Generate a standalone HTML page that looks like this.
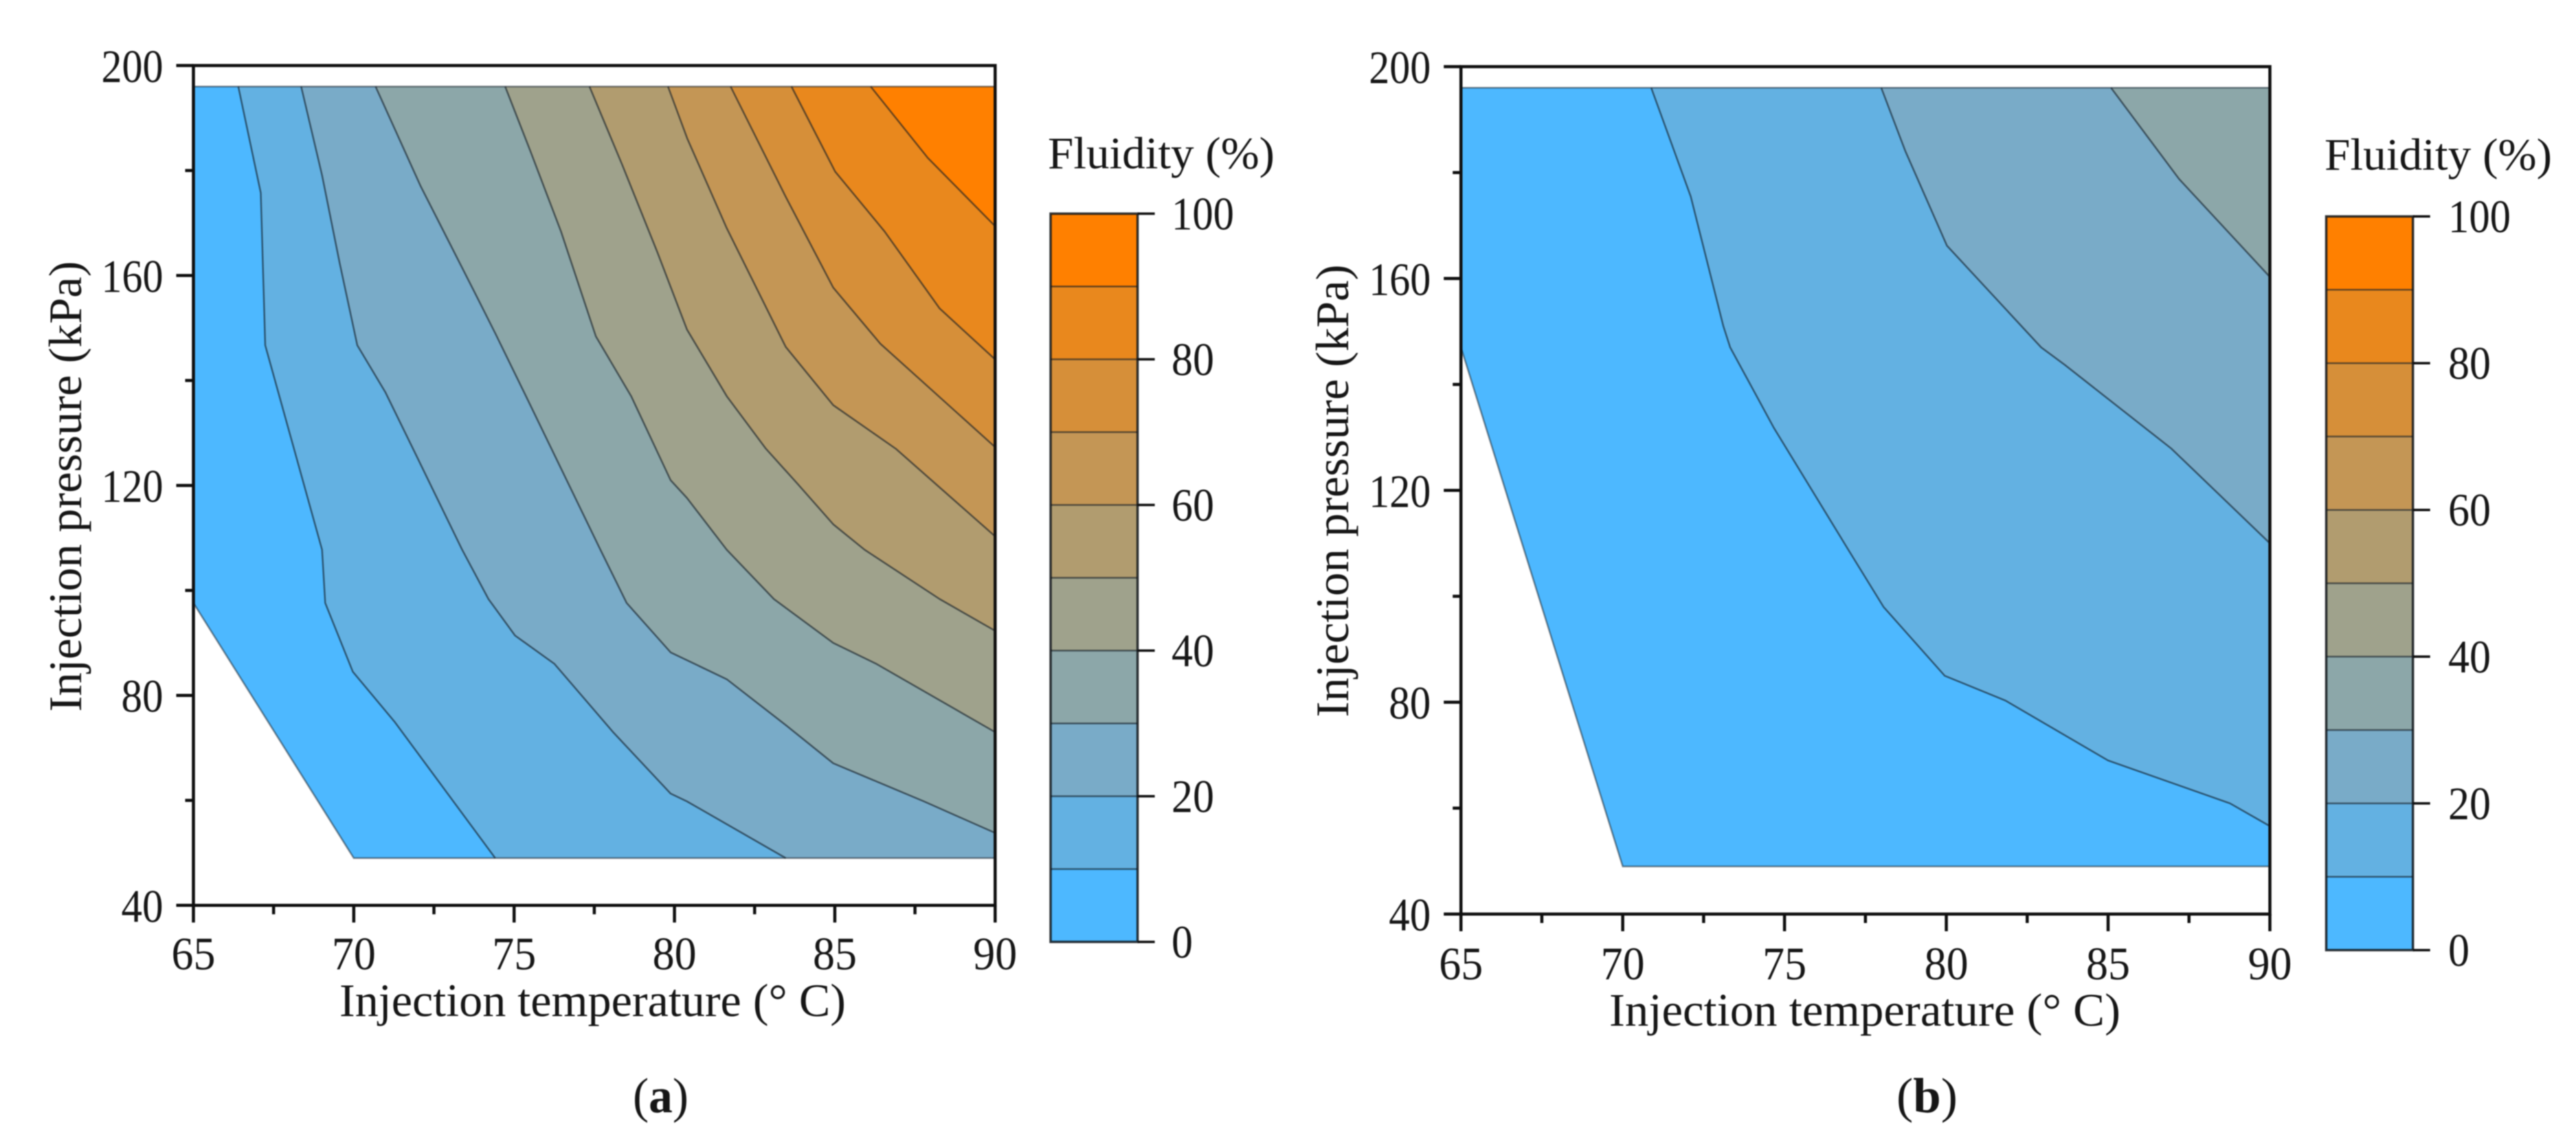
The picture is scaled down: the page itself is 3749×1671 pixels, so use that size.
<!DOCTYPE html>
<html lang="en">
<head>
<meta charset="utf-8">
<title>Fluidity contour maps</title>
<style>
html,body{margin:0;padding:0;background:#fff;width:3749px;height:1671px;overflow:hidden}
svg{display:block;filter:blur(0.8px)}
text{font-family:"Liberation Serif",serif;fill:#161616}
</style>
</head>
<body>
<svg id="figure" xmlns="http://www.w3.org/2000/svg" width="3749" height="1671" viewBox="0 0 3749 1671">
  <rect width="3749" height="1671" fill="#fff"/>
  <g id="panel-a"></g>
  <g id="panel-b"></g>

  <text x="494" y="1479" font-size="68" textLength="737" lengthAdjust="spacingAndGlyphs">Injection temperature (° C)</text>
  <text transform="translate(118,1036) rotate(-90)" font-size="68" textLength="656" lengthAdjust="spacingAndGlyphs">Injection pressure (kPa)</text>
  <text x="1525" y="245" font-size="66" textLength="330" lengthAdjust="spacingAndGlyphs">Fluidity (%)</text>
  <text x="921" y="1619" font-size="72" textLength="81" lengthAdjust="spacingAndGlyphs">(<tspan font-weight="bold">a</tspan>)</text>

  <text x="2342" y="1493" font-size="68" textLength="744" lengthAdjust="spacingAndGlyphs">Injection temperature (° C)</text>
  <text transform="translate(1962,1044) rotate(-90)" font-size="68" textLength="659" lengthAdjust="spacingAndGlyphs">Injection pressure (kPa)</text>
  <text x="3383" y="247" font-size="66" textLength="331" lengthAdjust="spacingAndGlyphs">Fluidity (%)</text>
  <text x="2760" y="1619" font-size="72" textLength="89" lengthAdjust="spacingAndGlyphs">(<tspan font-weight="bold">b</tspan>)</text>
</svg>

<script>
// ---- shared chart data ----
const temperatureTicks = [65, 70, 75, 80, 85, 90];
const temperatureMinorTicks = [67.5, 72.5, 77.5, 82.5, 87.5];
const pressureTicks = [40, 80, 120, 160, 200];
const pressureMinorTicks = [60, 100, 140, 180];
const colorbarTicks = [0, 20, 40, 60, 80, 100];
const bandEdges = [0, 10, 20, 30, 40, 50, 60, 70, 80, 90, 100];
const bandColors = ['#4db8ff', '#63b1e2', '#79abc8', '#8ca7a9', '#9fa28c', '#b19c6f', '#c49655', '#d68f39', '#e9881d', '#ff8000'];

// ---- panel (a): [temperature, pressure] vertices ----
const domainA = [[65, 196], [90, 196], [90, 49], [70, 49], [65, 97.6]];
const contourA10 = [[66.4, 196], [67.1, 175.75], [67.24, 146.7], [69.01, 107.75], [69.11, 97.6], [69.97, 84.5], [71.27, 75], [74.41, 49]];
const contourA20 = [[68.36, 196], [69.01, 179.1], [69.56, 162.4], [70.11, 146.7], [70.99, 137.7], [71.95, 125.7], [73.38, 107.75], [74.2, 98.35], [75.03, 91.4], [76.26, 86], [78.1, 72.9], [79.88, 61.3], [80.39, 59.8], [83.47, 49]];
const contourA30 = [[70.68, 196], [72.08, 177.1], [73.86, 155.7], [74.41, 149], [75.37, 137], [77.69, 107.75], [78.51, 97.6], [79.88, 88.2], [80.39, 86.7], [81.63, 83.07], [83.47, 74.35], [84.95, 67.07], [87.78, 59.8], [90, 53.8]];
const contourA40 = [[74.72, 196], [75.5, 183.8], [76.46, 168.4], [77.55, 148.4], [78.65, 137], [79.88, 121], [80.39, 117.6], [81.63, 107.75], [83.1, 98.35], [84.95, 90], [86.3, 86], [90, 73]];
const contourA50 = [[77.35, 196], [78.37, 181.1], [79.47, 164.4], [80.39, 149.7], [81.63, 137], [82.85, 127], [83.84, 120.3], [84.95, 112.6], [85.93, 107.75], [88.27, 98.35], [90, 92.3]];
const contourA60 = [[79.8, 196], [80.4, 186.1], [81.63, 169], [83.47, 146.4], [84.95, 135.3], [86.9, 127], [90, 110.3]];
const contourA70 = [[81.75, 196], [83.47, 175], [84.95, 157.7], [86.42, 147], [90, 127.3]];
const contourA80 = [[83.65, 196], [85.01, 179.8], [86.55, 168.4], [88.27, 153.7], [90, 144]];
const contourA90 = [[86.12, 196], [87.9, 182.4], [90, 169.4]];
const contoursA = [contourA10, contourA20, contourA30, contourA40, contourA50, contourA60, contourA70, contourA80, contourA90];

// ---- panel (b): [temperature, pressure] vertices ----
const domainB = [[65, 196], [90, 196], [90, 49], [70, 49], [65, 147]];
const contourB10 = [[70.88, 196], [72.1, 175.5], [73.11, 151], [73.32, 147], [74.67, 131.8], [76.97, 108.8], [78.06, 98], [79.95, 85], [81.83, 80.3], [85, 69], [88.77, 60.9], [90, 56.6]];
const contourB20 = [[77.99, 196], [78.73, 184.1], [80.02, 166.2], [82.93, 147], [83.66, 143.7], [86.95, 127.9], [90, 110]];
const contourB30 = [[85.09, 196], [87.19, 178.8], [90, 160.3]];
const contoursB = [contourB10, contourB20, contourB30];

// ---- drawing ----
const SVG_NS = 'http://www.w3.org/2000/svg';
const LINE_COLOR = '#0f0f0f';
const CONTOUR_COLOR = 'rgba(15,25,35,0.6)';

function make(tag, parent, attrs) {
  const el = document.createElementNS(SVG_NS, tag);
  Object.keys(attrs).forEach(function (k) { el.setAttribute(k, attrs[k]); });
  parent.appendChild(el);
  return el;
}

function linearScale(d0, d1, r0, r1) {
  return function (v) { return r0 + (v - d0) / (d1 - d0) * (r1 - r0); };
}

function label(parent, str, x, y, anchor, len) {
  const t = make('text', parent, { x: x, y: y, 'font-size': 68, 'text-anchor': anchor, textLength: len, lengthAdjust: 'spacingAndGlyphs' });
  t.textContent = str;
  return t;
}

function tickWidth(str) {
  return str.length === 3 ? 91 : str.length === 2 ? 62 : 31;
}

function pointsOf(list, x, y) {
  return list.map(function (p) { return x(p[0]).toFixed(1) + ',' + y(p[1]).toFixed(1); }).join(' ');
}

function drawPanel(cfg) {
  const root = document.getElementById(cfg.id);
  const x = linearScale(65, 90, cfg.left, cfg.right);
  const y = linearScale(40, 200, cfg.bottom, cfg.top);

  // base band
  const base = make('polygon', root, { points: pointsOf(cfg.domain, x, y), fill: bandColors[0], stroke: 'none' });
  
  

  // upper bands: each contour closed along the right and top of the domain
  cfg.contours.forEach(function (c, i) {
    const last = c[c.length - 1];
    const closure = last[0] < 90 ? [[90, 49], [90, 196]] : [[90, 196]];
    const band = make('polygon', root, { points: pointsOf(c.concat(closure), x, y), fill: bandColors[i + 1], stroke: 'none' });
    
    
  });

  // contour lines
  cfg.contours.forEach(function (c, i) {
    const line = make('polyline', root, { points: pointsOf(c, x, y), fill: 'none', stroke: CONTOUR_COLOR, 'stroke-width': 2.5, 'stroke-linejoin': 'round' });
    
    
  });

  const outline = make('polygon', root, { points: pointsOf(cfg.domain, x, y), fill: 'none', stroke: 'rgba(15,25,35,0.5)', 'stroke-width': 2.5 });
  
  

  // axes frame
  const frame = make('rect', root, { x: cfg.left, y: cfg.top, width: cfg.right - cfg.left, height: cfg.bottom - cfg.top, fill: 'none', stroke: LINE_COLOR, 'stroke-width': 4.5 });
  
  

  // x ticks
  temperatureTicks.forEach(function (t) {
    const tick = make('line', root, { x1: x(t), x2: x(t), y1: cfg.bottom, y2: cfg.bottom + 25, stroke: LINE_COLOR, 'stroke-width': 4.5 });
    
    
    const text = label(root, String(t), x(t), cfg.bottom + cfg.xLabelOffset, 'middle', 64);
    
    
  });
  temperatureMinorTicks.forEach(function (t) {
    const tick = make('line', root, { x1: x(t), x2: x(t), y1: cfg.bottom, y2: cfg.bottom + 13, stroke: LINE_COLOR, 'stroke-width': 4.5 });
    
    
  });

  // y ticks
  pressureTicks.forEach(function (p) {
    const tick = make('line', root, { x1: cfg.left - 25, x2: cfg.left, y1: y(p), y2: y(p), stroke: LINE_COLOR, 'stroke-width': 4.5 });
    
    
    const s = String(p);
    const text = label(root, s, cfg.left - 44, y(p) + 24, 'end', s.length === 3 ? 90 : 61);
    
    
  });
  pressureMinorTicks.forEach(function (p) {
    const tick = make('line', root, { x1: cfg.left - 12, x2: cfg.left, y1: y(p), y2: y(p), stroke: LINE_COLOR, 'stroke-width': 4.5 });
    
    
  });

  // colorbar
  const cy = linearScale(0, 100, cfg.barBottom, cfg.barTop);
  bandColors.forEach(function (color, i) {
    const seg = make('rect', root, { x: cfg.barLeft, y: cy(bandEdges[i + 1]), width: cfg.barRight - cfg.barLeft, height: cy(bandEdges[i]) - cy(bandEdges[i + 1]), fill: color });
    
    
  });
  bandEdges.slice(1, -1).forEach(function (v) {
    const sep = make('line', root, { x1: cfg.barLeft, x2: cfg.barRight, y1: cy(v), y2: cy(v), stroke: CONTOUR_COLOR, 'stroke-width': 2.5 });
    
    
  });
  const barFrame = make('rect', root, { x: cfg.barLeft, y: cfg.barTop, width: cfg.barRight - cfg.barLeft, height: cfg.barBottom - cfg.barTop, fill: 'none', stroke: 'rgba(15,20,25,0.85)', 'stroke-width': 3.5 });
  
  
  colorbarTicks.forEach(function (v) {
    const tick = make('line', root, { x1: cfg.barRight, x2: cfg.barRight + 25, y1: cy(v), y2: cy(v), stroke: LINE_COLOR, 'stroke-width': 3.5 });
    
    
    const s = String(v);
    const text = label(root, s, cfg.barLabelX, cy(v) + 23, 'start', tickWidth(s));
    
    
  });
}

drawPanel({
  id: 'panel-a', domain: domainA, contours: contoursA,
  left: 281.5, right: 1448.3, top: 95.4, bottom: 1317.8, xLabelOffset: 93,
  barLeft: 1529, barRight: 1655.6, barTop: 311, barBottom: 1371, barLabelX: 1705
});
drawPanel({
  id: 'panel-b', domain: domainB, contours: contoursB,
  left: 2126.2, right: 3303.5, top: 97, bottom: 1330.5, xLabelOffset: 95,
  barLeft: 3385.5, barRight: 3511.7, barTop: 315, barBottom: 1383, barLabelX: 3563
});
</script>
</body>
</html>
